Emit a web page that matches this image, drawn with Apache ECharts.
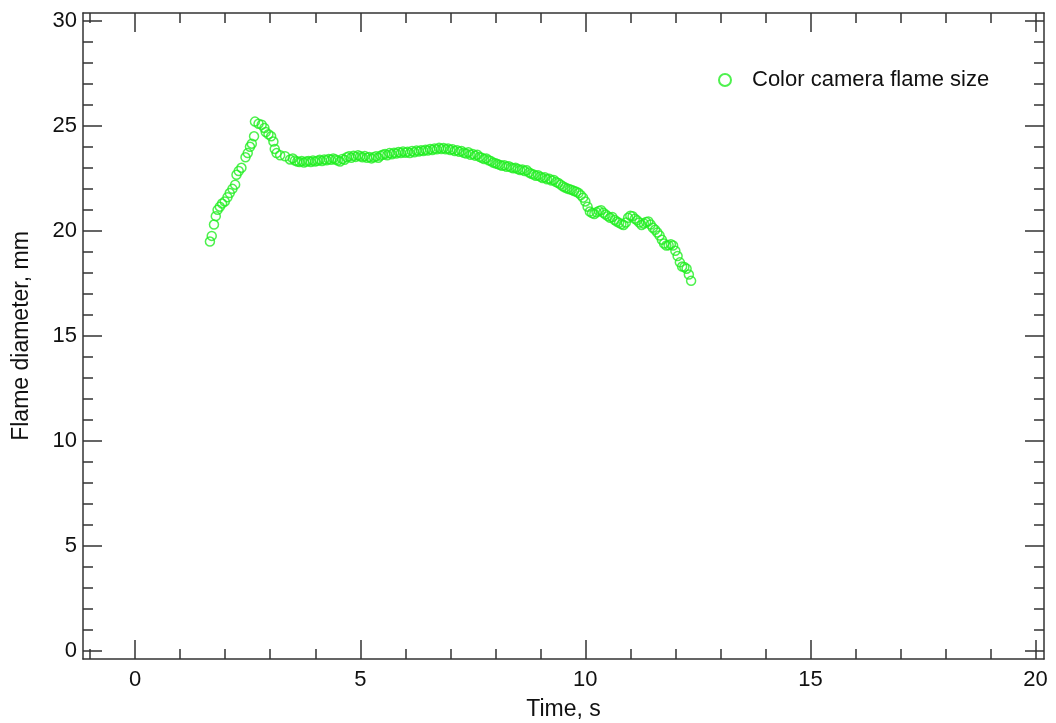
<!DOCTYPE html>
<html>
<head>
<meta charset="utf-8">
<script src="https://cdn.jsdelivr.net/npm/echarts@6/dist/echarts.min.js"></script>
<style>
html,body{margin:0;padding:0;background:#fff;}
#chart{width:1056px;height:723px;}
</style>
</head>
<body>
<div id="chart"></div>
<script>
const seriesName = "Color camera flame size";
const xAxisName = "Time, s";
const yAxisName = "Flame diameter, mm";
const xMajorTicks = [0, 5, 10, 15, 20];
const xMinorTicks = [-1, 1, 2, 3, 4, 6, 7, 8, 9, 11, 12, 13, 14, 16, 17, 18, 19];
const yMajorTicks = [0, 5, 10, 15, 20, 25, 30];
const yMinorTicks = [1, 2, 3, 4, 6, 7, 8, 9, 11, 12, 13, 14, 16, 17, 18, 19, 21, 22, 23, 24, 26, 27, 28, 29];
const xRange = [-1.16, 20.19];
const yRange = [-0.38, 30.37];

const times = [
 1.66, 1.70, 1.75, 1.79, 1.83, 1.88, 1.93, 1.99, 2.05, 2.10, 2.16, 2.22, 2.25, 2.30, 2.36, 2.45, 2.50, 2.55, 2.59, 2.64,
 2.66, 2.74, 2.81, 2.87, 2.90, 2.96, 3.02, 3.07, 3.10, 3.14, 3.22, 3.33, 3.44,
 3.50, 3.55, 3.60, 3.65, 3.70, 3.75, 3.80, 3.85, 3.90, 3.95, 4.00, 4.05, 4.10, 4.15, 4.20, 4.25, 4.30, 4.35, 4.40, 4.45,
 4.50, 4.55, 4.60, 4.65, 4.70, 4.75, 4.80, 4.85, 4.90, 4.95, 5.00, 5.05, 5.10, 5.15, 5.20, 5.25, 5.30, 5.35, 5.40, 5.45,
 5.50, 5.55, 5.60, 5.65, 5.70, 5.75, 5.80, 5.85, 5.90, 5.95, 6.00, 6.05, 6.10, 6.15, 6.20, 6.25, 6.30, 6.35, 6.40, 6.45,
 6.50, 6.55, 6.60, 6.65, 6.70, 6.75, 6.80, 6.85, 6.90, 6.95, 7.00, 7.05, 7.10, 7.15, 7.20, 7.25, 7.30, 7.35, 7.40, 7.45,
 7.50, 7.55, 7.60, 7.65, 7.70, 7.75, 7.80, 7.85, 7.90, 7.95, 8.00, 8.05, 8.10, 8.15, 8.20, 8.25, 8.30, 8.35, 8.40, 8.45,
 8.50, 8.55, 8.60, 8.65, 8.70, 8.75, 8.80, 8.85, 8.90, 8.95, 9.00, 9.05, 9.10, 9.15, 9.20, 9.25, 9.30, 9.35, 9.40, 9.45,
 9.50, 9.55, 9.60, 9.65, 9.70, 9.75, 9.80, 9.85, 9.90, 9.95, 10.00, 10.05, 10.10, 10.15, 10.20, 10.25, 10.30, 10.35, 10.40, 10.45,
 10.50, 10.55, 10.60, 10.65, 10.70, 10.75, 10.80, 10.85, 10.90, 10.95, 11.00, 11.05, 11.10, 11.15, 11.20, 11.25, 11.30, 11.35, 11.40, 11.45,
 11.50, 11.55, 11.60, 11.65, 11.70, 11.75, 11.80, 11.85, 11.90, 11.95, 12.00, 12.05, 12.10, 12.15, 12.20, 12.25, 12.30, 12.35
];
const diameters = [
 19.49, 19.76, 20.30, 20.70, 21.00, 21.15, 21.30, 21.40, 21.60, 21.80, 22.00, 22.20, 22.67, 22.85, 23.00, 23.50, 23.70, 24.00, 24.15, 24.50,
 25.20, 25.10, 25.05, 24.90, 24.70, 24.60, 24.50, 24.25, 23.90, 23.70, 23.60, 23.55, 23.40,
 23.45, 23.35, 23.30, 23.28, 23.32, 23.25, 23.30, 23.33, 23.28, 23.35, 23.30, 23.34, 23.38, 23.32, 23.40, 23.36, 23.42, 23.38, 23.45, 23.40,
 23.35, 23.30, 23.42, 23.38, 23.50, 23.55, 23.48, 23.58, 23.52, 23.60, 23.55, 23.50, 23.56, 23.48, 23.52, 23.45, 23.50, 23.55, 23.48, 23.58,
 23.62, 23.66, 23.60, 23.70, 23.65, 23.72, 23.68, 23.75, 23.70, 23.78, 23.72, 23.76, 23.70, 23.80, 23.74, 23.82, 23.78, 23.84, 23.80, 23.86,
 23.82, 23.90, 23.85, 23.92, 23.88, 23.95, 23.90, 23.94, 23.88, 23.92, 23.85, 23.88, 23.80, 23.84, 23.76, 23.80, 23.72, 23.68, 23.74, 23.62,
 23.66, 23.58, 23.62, 23.52, 23.48, 23.42, 23.45, 23.36, 23.32, 23.25, 23.22, 23.18, 23.14, 23.10, 23.12, 23.05, 23.08, 23.02, 22.98, 23.00,
 22.94, 22.90, 22.92, 22.85, 22.88, 22.78, 22.72, 22.68, 22.62, 22.65, 22.58, 22.52, 22.55, 22.46, 22.48, 22.40, 22.42, 22.32, 22.28, 22.20,
 22.12, 22.06, 22.02, 21.98, 21.95, 21.90, 21.86, 21.80, 21.70, 21.58, 21.40, 21.15, 20.92, 20.85, 20.80, 20.88, 20.95, 20.98, 20.86, 20.78,
 20.70, 20.62, 20.66, 20.52, 20.44, 20.38, 20.32, 20.28, 20.40, 20.62, 20.72, 20.70, 20.58, 20.50, 20.40, 20.28, 20.35, 20.42, 20.45, 20.30,
 20.15, 20.05, 19.92, 19.78, 19.58, 19.40, 19.30, 19.32, 19.36, 19.30, 19.05, 18.80, 18.50, 18.30, 18.28, 18.20, 17.92, 17.62
];

const points = times.map((t, i) => [t, diameters[i]]);
const FONT = "'Liberation Sans', Arial, Helvetica, sans-serif";
const AXIS_COLOR = '#333';
const GREEN = '#22ee22';

function xAx(position, ticks, len, showLabel, showLine, name) {
  return {
    type: 'value', position: position, min: xRange[0], max: xRange[1],
    name: name || '', nameLocation: 'middle', nameGap: 39,
    nameTextStyle: {fontFamily: FONT, fontSize: 23, color: '#111'},
    axisLine: {show: showLine, onZero: false, lineStyle: {color: AXIS_COLOR, width: 1.5}},
    axisTick: {show: true, inside: true, length: len, customValues: ticks, lineStyle: {color: AXIS_COLOR, width: 1.5}},
    axisLabel: showLabel ? {show: true, customValues: ticks, margin: 10, fontFamily: FONT, fontSize: 22, color: '#111'} : {show: false},
    splitLine: {show: false}
  };
}
function yAx(position, ticks, len, showLabel, showLine, name) {
  return {
    type: 'value', position: position, min: yRange[0], max: yRange[1],
    name: name || '', nameLocation: 'middle', nameGap: 50,
    nameTextStyle: {fontFamily: FONT, fontSize: 23, color: '#111'},
    axisLine: {show: showLine, onZero: false, lineStyle: {color: AXIS_COLOR, width: 1.5}},
    axisTick: {show: true, inside: true, length: len, customValues: ticks, lineStyle: {color: AXIS_COLOR, width: 1.5}},
    axisLabel: showLabel ? {show: true, customValues: ticks, margin: 6, fontFamily: FONT, fontSize: 22, color: '#111'} : {show: false},
    splitLine: {show: false}
  };
}

const chart = echarts.init(document.getElementById('chart'), null, {renderer: 'canvas'});
chart.setOption({
  animation: false,
  backgroundColor: '#fff',
  grid: {left: 83, right: 12, top: 13, bottom: 64, containLabel: false, outerBoundsMode: 'none'},
  legend: {
    show: true, left: 713, top: 64, itemWidth: 12, itemHeight: 12,
    data: [{name: seriesName, icon: 'circle'}],
    textStyle: {fontFamily: FONT, fontSize: 22, color: '#111', padding: [0, 0, 0, 16]}
  },
  xAxis: [
    xAx('bottom', xMajorTicks, 19, true, true, xAxisName),
    xAx('bottom', xMinorTicks, 10, false, false),
    xAx('top', xMajorTicks, 19, false, true),
    xAx('top', xMinorTicks, 10, false, false)
  ],
  yAxis: [
    yAx('left', yMajorTicks, 19, true, true, yAxisName),
    yAx('left', yMinorTicks, 10, false, false),
    yAx('right', yMajorTicks, 19, false, true),
    yAx('right', yMinorTicks, 10, false, false)
  ],
  series: [{
    name: seriesName, type: 'scatter', xAxisIndex: 0, yAxisIndex: 0,
    data: points, symbol: 'circle', symbolSize: 9,
    itemStyle: {color: 'rgba(255,255,255,0)', borderColor: GREEN, borderWidth: 1.5}
  }]
});
</script>
</body>
</html>
